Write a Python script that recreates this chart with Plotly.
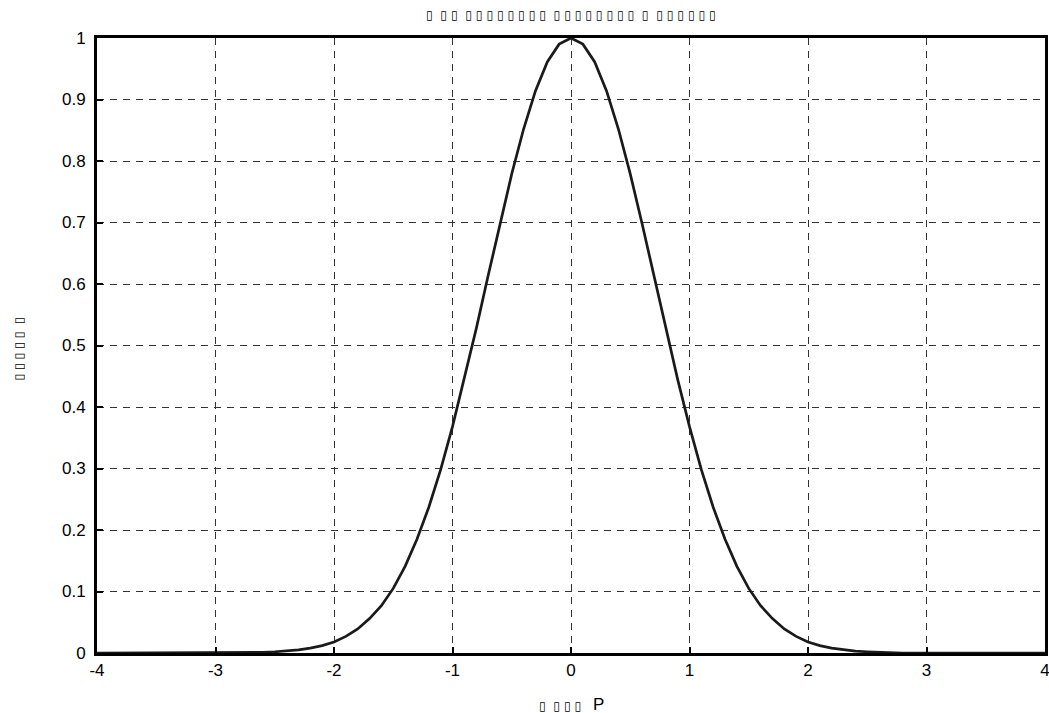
import plotly.graph_objects as go

# Data (radial basis transfer curve)
n_vals = [-4.0, -3.9, -3.8, -3.7, -3.6, -3.5, -3.4, -3.3, -3.2, -3.1,
          -3.0, -2.9, -2.8, -2.7, -2.6, -2.5, -2.4, -2.3, -2.2, -2.1,
          -2.0, -1.9, -1.8, -1.7, -1.6, -1.5, -1.4, -1.3, -1.2, -1.1,
          -1.0, -0.9, -0.8, -0.7, -0.6, -0.5, -0.4, -0.3, -0.2, -0.1,
          0.0, 0.1, 0.2, 0.3, 0.4, 0.5, 0.6, 0.7, 0.8, 0.9,
          1.0, 1.1, 1.2, 1.3, 1.4, 1.5, 1.6, 1.7, 1.8, 1.9,
          2.0, 2.1, 2.2, 2.3, 2.4, 2.5, 2.6, 2.7, 2.8, 2.9,
          3.0, 3.1, 3.2, 3.3, 3.4, 3.5, 3.6, 3.7, 3.8, 3.9, 4.0]
a_vals = [0.0, 0.0, 0.0, 0.0, 0.0, 0.0, 0.0, 0.0, 0.0, 0.0,
          0.0, 0.0, 0.0, 0.001, 0.001, 0.002, 0.003, 0.005, 0.008, 0.012,
          0.018, 0.027, 0.039, 0.056, 0.077, 0.105, 0.141, 0.185, 0.237, 0.298,
          0.368, 0.445, 0.527, 0.613, 0.698, 0.779, 0.852, 0.914, 0.961, 0.990,
          1.0, 0.990, 0.961, 0.914, 0.852, 0.779, 0.698, 0.613, 0.527, 0.445,
          0.368, 0.298, 0.237, 0.185, 0.141, 0.105, 0.077, 0.056, 0.039, 0.027,
          0.018, 0.012, 0.008, 0.005, 0.003, 0.002, 0.001, 0.001, 0.0, 0.0,
          0.0, 0.0, 0.0, 0.0, 0.0, 0.0, 0.0, 0.0, 0.0, 0.0, 0.0]

x_ticks = [-4, -3, -2, -1, 0, 1, 2, 3, 4]
x_tick_text = ["-4", "-3", "-2", "-1", "0", "1", "2", "3", "4"]
y_ticks = [0, 0.1, 0.2, 0.3, 0.4, 0.5, 0.6, 0.7, 0.8, 0.9, 1]
y_tick_text = ["0", "0.1", "0.2", "0.3", "0.4", "0.5", "0.6", "0.7", "0.8", "0.9", "1"]

# Text as it appears in the reference (missing-glyph boxes), grouped by word
title_words = [1, 2, 8, 8, 1, 6]
xlabel_words = [1, 3]
ylabel_words = [5, 1]

BOX = "\u25af"
SP = "\u2004"


def boxes(groups):
    return (" " + SP).join(SP.join([BOX] * g) for g in groups)


title_text = boxes(title_words)
xlabel_text = boxes(xlabel_words) + ("\u2003") + \
    '<span style="font-family:Liberation Sans, Arial; font-size:17px">P</span>'
ylabel_text = boxes(ylabel_words)

fig = go.Figure()
fig.add_trace(go.Scatter(x=n_vals, y=a_vals, mode="lines",
                         line=dict(color="#1a1a1a", width=2.7),
                         hoverinfo="skip", showlegend=False))

font_tick = dict(family="Liberation Sans, Arial, sans-serif", size=17, color="black")

axis_common = dict(showline=True, linecolor="black", linewidth=3, mirror=True,
                   showgrid=True, gridcolor="#333333", gridwidth=1, griddash="7px,6px",
                   zeroline=False, ticks="inside", ticklen=6, tickcolor="black",
                   tickwidth=1.5, tickfont=font_tick, automargin=False,
                   ticklabeloverflow="allow")

fig.update_xaxes(range=[-4, 4], tickmode="array", tickvals=x_ticks, ticktext=x_tick_text,
                 **axis_common)
fig.update_yaxes(range=[0, 1], tickmode="array", tickvals=y_ticks, ticktext=y_tick_text,
                 ticklabelstandoff=5, **axis_common)

fig.update_layout(
    width=1049, height=713,
    margin=dict(l=97, r=4, t=38, b=60),
    paper_bgcolor="white", plot_bgcolor="white",
    annotations=[
        dict(text=title_text, x=0.5, y=1, xref="paper", yref="paper",
             xanchor="center", yanchor="middle", yshift=23, showarrow=False,
             font=dict(family="DejaVu Sans", size=12, color="black")),
        dict(text=xlabel_text, x=0.5, y=0, xref="paper", yref="paper",
             xanchor="center", yanchor="middle", yshift=-51, showarrow=False,
             font=dict(family="DejaVu Sans", size=12, color="black")),
        dict(text=ylabel_text, x=0, y=0.5, xref="paper", yref="paper",
             xanchor="center", yanchor="middle", xshift=-79, yshift=-4,
             showarrow=False, textangle=-90,
             font=dict(family="DejaVu Sans", size=12, color="black")),
    ],
)

fig.write_html("out.html",
               config={"displayModeBar": False},
               post_script="document.body.style.margin='0';"
                           "document.body.style.overflow='hidden';")
